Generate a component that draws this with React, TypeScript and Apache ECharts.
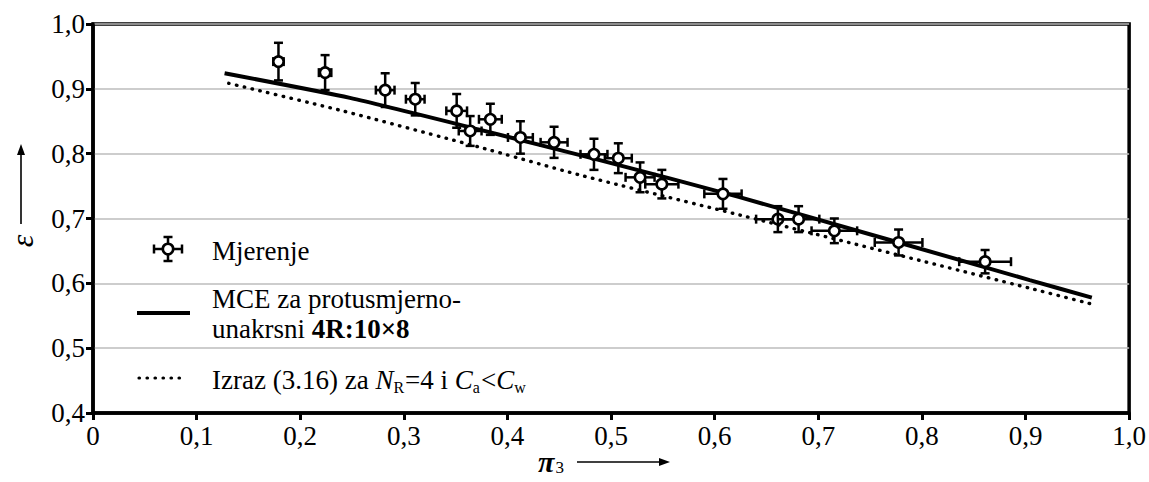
import React, { useEffect, useRef } from "react";
import * as echarts from "echarts";

// Measurements (pi3, epsilon) with error half-widths
const pi3 = [0.179, 0.224, 0.282, 0.311, 0.351, 0.364, 0.3835, 0.4125, 0.445, 0.4835, 0.507, 0.528, 0.549, 0.608, 0.661, 0.681, 0.7155, 0.7775, 0.861];
const eps = [0.942, 0.925, 0.898, 0.884, 0.866, 0.835, 0.853, 0.825, 0.8175, 0.799, 0.793, 0.7635, 0.753, 0.738, 0.699, 0.699, 0.681, 0.663, 0.6334];
const pi3Err = [0.005, 0.006, 0.009, 0.009, 0.010, 0.011, 0.011, 0.012, 0.013, 0.013, 0.013, 0.014, 0.016, 0.018, 0.021, 0.020, 0.022, 0.023, 0.025];
const epsErr = [0.029, 0.027, 0.026, 0.025, 0.026, 0.023, 0.024, 0.025, 0.024, 0.024, 0.023, 0.023, 0.022, 0.023, 0.020, 0.020, 0.019, 0.020, 0.018];

// MCE model curve (solid)
const mceX = [0.127, 0.248, 0.373, 0.489, 0.624, 0.904, 0.964];
const mceY = [0.924, 0.886, 0.837, 0.790, 0.733, 0.605, 0.578];

// Izraz (3.16) curve (dotted)
const izrX = [0.131, 0.241, 0.373, 0.470, 0.624, 0.904, 0.965];
const izrY = [0.9085, 0.866, 0.810, 0.767, 0.7055, 0.5925, 0.5676];

const xTickLabels = ["0", "0,1", "0,2", "0,3", "0,4", "0,5", "0,6", "0,7", "0,8", "0,9", "1,0"];
const yTickLabels = ["0,4", "0,5", "0,6", "0,7", "0,8", "0,9", "1,0"];

const FONT = "Liberation Serif";
const FS = 27;

function ts(size: number, italic = false, bold = false) {
  const o: any = { fontFamily: FONT, fontSize: size };
  if (italic) o.fontStyle = "italic";
  if (bold) o.fontWeight = "bold";
  return o;
}

export default function App() {
  const ref = useRef<HTMLDivElement>(null);
  useEffect(() => {
    if (!ref.current) return;
    const chart = echarts.init(ref.current, null, { renderer: "svg" });
    const measData = pi3.map((x, i) => [x, eps[i], pi3Err[i], epsErr[i]]);

    const renderErr = (params: any, api: any) => {
      const x = api.value(0), y = api.value(1), ex = api.value(2), ey = api.value(3);
      const c = api.coord([x, y]);
      const l = api.coord([x - ex, y]);
      const r = api.coord([x + ex, y]);
      const t = api.coord([x, y + ey]);
      const b = api.coord([x, y - ey]);
      const st = { stroke: "#000", lineWidth: 2.5 };
      const cap = 4.5;
      return {
        type: "group",
        children: [
          { type: "line", shape: { x1: l[0], y1: c[1], x2: r[0], y2: c[1] }, style: st },
          { type: "line", shape: { x1: c[0], y1: t[1], x2: c[0], y2: b[1] }, style: st },
          { type: "line", shape: { x1: l[0], y1: c[1] - cap, x2: l[0], y2: c[1] + cap }, style: st },
          { type: "line", shape: { x1: r[0], y1: c[1] - cap, x2: r[0], y2: c[1] + cap }, style: st },
          { type: "line", shape: { x1: c[0] - cap, y1: t[1], x2: c[0] + cap, y2: t[1] }, style: st },
          { type: "line", shape: { x1: c[0] - cap, y1: b[1], x2: c[0] + cap, y2: b[1] }, style: st },
          { type: "circle", shape: { cx: c[0], cy: c[1], r: 5.2 }, style: { fill: "#fff", stroke: "#000", lineWidth: 2.6 } },
        ],
      };
    };

    const lgX = 168, lgY = 249;
    const lst = { stroke: "#000", lineWidth: 2.5 };

    chart.setOption({
      animation: false,
      grid: { left: 93, right: 19, top: 24, bottom: 69, show: true, borderColor: "#000", borderWidth: 3.5 },
      xAxis: {
        type: "value", min: 0, max: 1, interval: 0.1,
        axisLine: { show: true, lineStyle: { color: "#000", width: 3.5 } },
        axisTick: { show: true, length: 7, lineStyle: { color: "#000", width: 3 } },
        axisLabel: {
          color: "#000", fontFamily: FONT, fontSize: FS, margin: 9,
          formatter: (v: number) => xTickLabels[Math.round(v * 10)] ?? "",
        },
        splitLine: { show: false },
      },
      yAxis: {
        type: "value", min: 0.4, max: 1.0, interval: 0.1,
        axisLine: { show: true, lineStyle: { color: "#000", width: 3.5 } },
        axisTick: { show: true, length: 7, lineStyle: { color: "#000", width: 3 } },
        axisLabel: {
          color: "#000", fontFamily: FONT, fontSize: FS, margin: 8,
          formatter: (v: number) => yTickLabels[Math.round(v * 10) - 4] ?? "",
        },
        splitLine: { show: true, lineStyle: { color: "#bdbdbd", width: 1.5 } },
      },
      series: [
        {
          type: "line", data: izrX.map((x, i) => [x, izrY[i]]), smooth: 0.2, showSymbol: false, z: 2,
          lineStyle: { color: "#000", width: 3.4, type: [0.5, 7.5], cap: "round" },
        },
        {
          type: "line", data: mceX.map((x, i) => [x, mceY[i]]), smooth: 0.2, showSymbol: false, z: 3,
          lineStyle: { color: "#000", width: 4 },
        },
        { type: "custom", data: measData, renderItem: renderErr, z: 5, encode: { x: 0, y: 1 } },
      ],
      graphic: [
        // y axis name
        { type: "text", x: 22, y: 241, rotation: Math.PI / 2, style: { text: "ε", ...ts(32, true), fill: "#000", align: "center", verticalAlign: "middle" } },
        { type: "line", shape: { x1: 21, y1: 224, x2: 21, y2: 152 }, style: { stroke: "#000", lineWidth: 1.6 } },
        { type: "polygon", shape: { points: [[21, 144], [17, 155], [25, 155]] }, style: { fill: "#000" } },
        // x axis name
        {
          type: "text", x: 538, y: 461,
          style: {
            text: "{p|π}{s|3}", fill: "#000", verticalAlign: "middle", ...ts(30),
            rich: {
              p: { ...ts(30, true, true), lineHeight: 30, verticalAlign: "middle" },
              s: { ...ts(17), lineHeight: 30, verticalAlign: "bottom", padding: [12, 0, 0, 1] },
            },
          },
        },
        { type: "line", shape: { x1: 577, y1: 462, x2: 662, y2: 462 }, style: { stroke: "#000", lineWidth: 1.6 } },
        { type: "polygon", shape: { points: [[670, 462], [659, 458], [659, 466]] }, style: { fill: "#000" } },
        // legend: Mjerenje
        {
          type: "group", children: [
            { type: "line", shape: { x1: lgX - 14, y1: lgY, x2: lgX + 14, y2: lgY }, style: lst },
            { type: "line", shape: { x1: lgX, y1: lgY - 12, x2: lgX, y2: lgY + 12 }, style: lst },
            { type: "line", shape: { x1: lgX - 14, y1: lgY - 4.5, x2: lgX - 14, y2: lgY + 4.5 }, style: lst },
            { type: "line", shape: { x1: lgX + 14, y1: lgY - 4.5, x2: lgX + 14, y2: lgY + 4.5 }, style: lst },
            { type: "line", shape: { x1: lgX - 4.5, y1: lgY - 12, x2: lgX + 4.5, y2: lgY - 12 }, style: lst },
            { type: "line", shape: { x1: lgX - 4.5, y1: lgY + 12, x2: lgX + 4.5, y2: lgY + 12 }, style: lst },
            { type: "circle", shape: { cx: lgX, cy: lgY, r: 5.2 }, style: { fill: "#fff", stroke: "#000", lineWidth: 2.6 } },
          ],
        },
        { type: "text", x: 212, y: 251, style: { text: "Mjerenje", ...ts(FS), fill: "#000", verticalAlign: "middle" } },
        // legend: MCE
        { type: "line", shape: { x1: 137, y1: 313, x2: 190, y2: 313 }, style: { stroke: "#000", lineWidth: 4 } },
        { type: "text", x: 212, y: 299, style: { text: "MCE za protusmjerno-", ...ts(FS), fill: "#000", verticalAlign: "middle" } },
        {
          type: "text", x: 212, y: 329,
          style: {
            text: "unakrsni {b|4R:10×8}", ...ts(FS), fill: "#000", verticalAlign: "middle",
            rich: { b: { ...ts(FS, false, true) } },
          },
        },
        // legend: Izraz
        { type: "line", shape: { x1: 139, y1: 378, x2: 187, y2: 378 }, style: { stroke: "#000", lineWidth: 3.2, lineDash: [0.5, 7.5], lineCap: "round" } },
        {
          type: "text", x: 212, y: 380,
          style: {
            text: "Izraz (3.16) za {i|N}{s|R}{n|=4 i }{i|C}{s|a}{n|<}{i|C}{s|w}",
            ...ts(FS), fill: "#000", verticalAlign: "middle",
            rich: {
              n: { ...ts(FS), lineHeight: 30, verticalAlign: "middle" },
              i: { ...ts(FS, true), lineHeight: 30, verticalAlign: "middle" },
              s: { ...ts(16), lineHeight: 30, verticalAlign: "bottom", padding: [10, 1, 0, 0] },
            },
          },
        },
      ],
    });
    return () => chart.dispose();
  }, []);
  return <div ref={ref} style={{ position: "fixed", left: 0, top: 0, width: 1149, height: 482, background: "#fff" }} />;
}
